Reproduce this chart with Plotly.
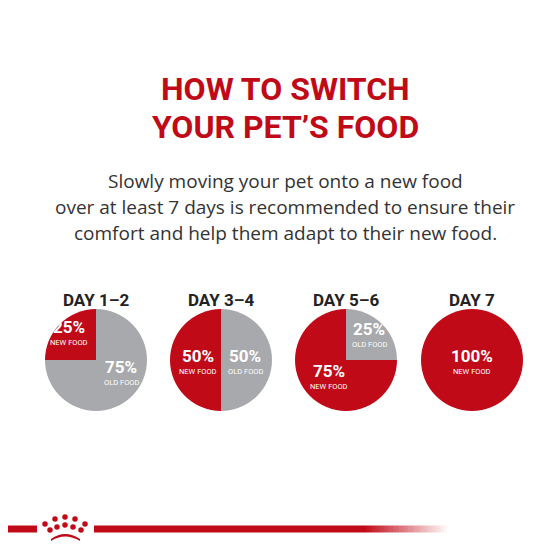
import plotly.graph_objects as go

RED = "#c10a17"
GREY = "#a7a9ac"

days = ["DAY 1–2", "DAY 3–4", "DAY 5–6", "DAY 7"]
new_food = [25, 50, 75, 100]
old_food = [75, 50, 25, 0]
centers_x = [88, 213, 338, 464]
cy = 352
r = 51
W = 554

fig = go.Figure()

for i, d in enumerate(days):
    cx = centers_x[i]
    dom = dict(x=[(cx - r) / W, (cx + r) / W], y=[1 - (cy + r) / W, 1 - (cy - r) / W])
    fig.add_trace(go.Pie(values=[old_food[i], new_food[i]], marker=dict(colors=[GREY, RED]),
                         direction="clockwise", sort=False,
                         textinfo="none", hoverinfo="skip", domain=dom, showlegend=False))
    fig.add_annotation(x=cx, y=292, text="<b>" + d + "</b>", showarrow=False,
                       font=dict(family="Roboto", size=17, color="#222"))

# labels: (x, y, pct, sub)
labels = [
    (61, 325, "25%", "NEW FOOD"), (113, 365, "75%", "OLD FOOD"),
    (190, 354, "50%", "NEW FOOD"), (237, 354, "50%", "OLD FOOD"),
    (361, 327, "25%", "OLD FOOD"), (321, 369, "75%", "NEW FOOD"),
    (464, 354, "100%", "NEW FOOD"),
]
for x, y, p, s in labels:
    fig.add_annotation(x=x, y=y - 6, text="<b>" + p + "</b>", showarrow=False,
                       font=dict(family="Roboto", size=17, color="white"))
    fig.add_annotation(x=x, y=y + 9, text=s, showarrow=False,
                       font=dict(family="Roboto", size=7.5, color="white"))

fig.add_annotation(x=277, y=81, text="<b>HOW TO SWITCH</b>", showarrow=False,
                   font=dict(family="Roboto", size=32, color=RED))
fig.add_annotation(x=277, y=119, text="<b>YOUR PET’S FOOD</b>", showarrow=False,
                   font=dict(family="Roboto", size=32, color=RED))
subtitle = ["Slowly moving your pet onto a new food",
            "over at least 7 days is recommended to ensure their",
            "comfort and help them adapt to their new food."]
for k, line in enumerate(subtitle):
    fig.add_annotation(x=277, y=173 + 26 * k, text=line, showarrow=False,
                       font=dict(family="Open Sans", size=19, color="#333"))

# bottom band with fade
LY = 521
fig.add_shape(type="line", x0=0, x1=29, y0=LY, y1=LY, line=dict(color=RED, width=7))
fig.add_shape(type="line", x0=86, x1=355, y0=LY, y1=LY, line=dict(color=RED, width=7))
n = 28
for k in range(n):
    a = 1 - k / n
    fig.add_shape(type="line", x0=355 + k * 3, x1=358 + k * 3, y0=LY, y1=LY,
                  line=dict(color=f"rgba(193,10,23,{a:.2f})", width=7))
crown_x = [37, 47, 57, 67, 77, 42, 49, 57, 65, 73]
crown_y = [516, 511, 509, 511, 516, 522, 519, 517, 519, 522]
fig.add_trace(go.Scatter(x=crown_x, y=crown_y, mode="markers", hoverinfo="skip", showlegend=False,
                         marker=dict(color=RED, size=5.5)))
fig.add_shape(type="path", path="M 43 531 Q 57 521 72 531 L 72 533 Q 57 524 43 533 Z",
              fillcolor=RED, line=dict(width=0))

fig.update_layout(width=554, height=554, margin=dict(l=0, r=0, t=0, b=0),
                  paper_bgcolor="white", plot_bgcolor="white",
                  xaxis=dict(range=[0, 554], visible=False, fixedrange=True),
                  yaxis=dict(range=[554, 0], visible=False, fixedrange=True))
fig.write_html("out.html")
